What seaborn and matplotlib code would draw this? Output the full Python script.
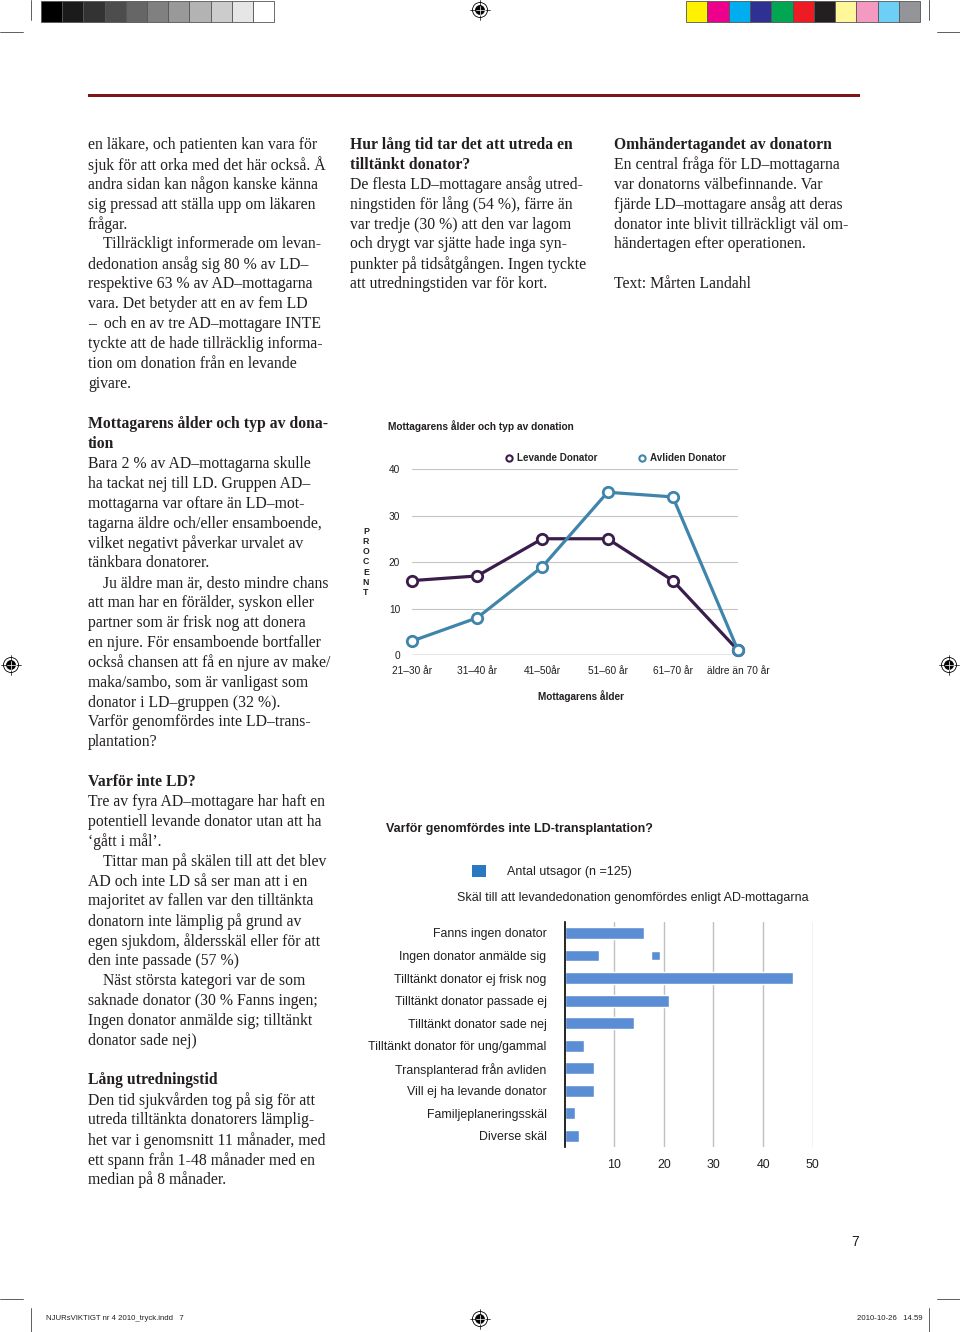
import numpy as np
import pandas as pd
import seaborn as sns
import matplotlib.pyplot as plt
from matplotlib.lines import Line2D
from matplotlib.patches import Rectangle, Circle

# --- chart data -------------------------------------------------------------
age_groups = ['21–30 år', '31–40 år', '41–50år', '51–60 år', '61–70 år', 'äldre än 70 år']
levande = [16, 17, 25, 25, 16, 1]
avliden = [3, 8, 19, 35, 34, 1]
y_ticks_line = [0, 10, 20, 30, 40]

reasons = ['Fanns ingen donator', 'Ingen donator anmälde sig', 'Tilltänkt donator ej frisk nog',
           'Tilltänkt donator passade ej', 'Tilltänkt donator sade nej',
           'Tilltänkt donator för ung/gammal', 'Transplanterad från avliden',
           'Vill ej ha levande donator', 'Familjeplaneringsskäl', 'Diverse skäl']
counts = [16, 7, 46, 21, 14, 4, 6, 6, 2, 3]
stray_row, stray_left, stray_width = 1, 17.5, 1.8
x_ticks_bar = [10, 20, 30, 40, 50]

# --- body text (** = bold heading, > = indented paragraph) ------------------
col1 = ["en läkare, och patienten kan vara för",
        "sjuk för att orka med det här också. Å",
        "andra sidan kan någon kanske känna",
        "sig pressad att ställa upp om läkaren",
        "frågar.",
        ">Tillräckligt informerade om levan-",
        "dedonation ansåg sig 80 % av LD–",
        "respektive 63 % av AD–mottagarna",
        "vara. Det betyder att en av fem LD",
        "–  och en av tre AD–mottagare INTE",
        "tyckte att de hade tillräcklig informa-",
        "tion om donation från en levande",
        "givare."]
col2 = ["**Hur lång tid tar det att utreda en",
        "**tilltänkt donator?",
        "De flesta LD–mottagare ansåg utred-",
        "ningstiden för lång (54 %), färre än",
        "var tredje (30 %) att den var lagom",
        "och drygt var sjätte hade inga syn-",
        "punkter på tidsåtgången. Ingen tyckte",
        "att utredningstiden var för kort."]
col3 = ["**Omhändertagandet av donatorn",
        "En central fråga för LD–mottagarna",
        "var donatorns välbefinnande. Var",
        "fjärde LD–mottagare ansåg att deras",
        "donator inte blivit tillräckligt väl om-",
        "händertagen efter operationen.",
        "",
        "Text: Mårten Landahl"]
col1b = ["**Mottagarens ålder och typ av dona-",
         "**tion",
         "Bara 2 % av AD–mottagarna skulle",
         "ha tackat nej till LD. Gruppen AD–",
         "mottagarna var oftare än LD–mot-",
         "tagarna äldre och/eller ensamboende,",
         "vilket negativt påverkar urvalet av",
         "tänkbara donatorer.",
         ">Ju äldre man är, desto mindre chans",
         "att man har en förälder, syskon eller",
         "partner som är frisk nog att donera",
         "en njure. För ensamboende bortfaller",
         "också chansen att få en njure av make/",
         "maka/sambo, som är vanligast som",
         "donator i LD–gruppen (32 %).",
         "Varför genomfördes inte LD–trans-",
         "plantation?"]
col1c = ["**Varför inte LD?",
         "Tre av fyra AD–mottagare har haft en",
         "potentiell levande donator utan att ha",
         "‘gått i mål’.",
         ">Tittar man på skälen till att det blev",
         "AD och inte LD så ser man att i en",
         "majoritet av fallen var den tilltänkta",
         "donatorn inte lämplig på grund av",
         "egen sjukdom, åldersskäl eller för att",
         "den inte passade (57 %)",
         ">Näst största kategori var de som",
         "saknade donator (30 % Fanns ingen;",
         "Ingen donator anmälde sig; tilltänkt",
         "donator sade nej)",
         "",
         "**Lång utredningstid",
         "Den tid sjukvården tog på sig för att",
         "utreda tilltänkta donatorers lämplig-",
         "het var i genomsnitt 11 månader, med",
         "ett spann från 1-48 månader med en",
         "median på 8 månader."]

gray_swatches = ['#000000', '#1b1b1b', '#333333', '#4d4d4d', '#666666', '#808080',
                 '#999999', '#b3b3b3', '#cccccc', '#e6e6e6', '#ffffff']
color_swatches = ['#fff200', '#ec008c', '#00aeef', '#2e3192', '#00a651', '#ed1c24',
                  '#231f20', '#fff799', '#f49ac1', '#6dcff6', '#939598']

W, H = 960, 1332
SERIF = 'Liberation Serif'
SANS = 'Liberation Sans'
INK = '#231f20'
C_LEV = '#3b1d4c'
C_AVL = '#3f85ab'
C_BAR = '#5b8dd4'

sns.set_theme(style='white')
plt.rcParams['font.family'] = [SANS, 'DejaVu Sans']

fig = plt.figure(figsize=(W / 100, H / 100), dpi=100)

# page layer in pixel coordinates
page = fig.add_axes([0, 0, 1, 1])
page.set_xlim(0, W)
page.set_ylim(H, 0)
page.axis('off')


def block(x, y0, lines, size=11.3, step=19.9):
    for i, s in enumerate(lines):
        if not s:
            continue
        weight = 'normal'
        dx = 0
        if s.startswith('**'):
            s, weight = s[2:], 'bold'
        elif s.startswith('>'):
            s, dx = s[1:], 15
        page.text(x + dx, y0 + i * step, s, fontsize=size, family=SERIF,
                  fontweight=weight, color=INK, va='center', ha='left')


block(88, 145, col1)
block(350, 145, col2)
block(614, 145, col3)
block(88, 424, col1b)
block(88, 782, col1c)

# printer marks
for i, c in enumerate(gray_swatches):
    page.add_patch(Rectangle((41 + i * 21.2, 1), 21.2, 21, facecolor=c,
                             edgecolor='#555555', lw=0.6))
for i, c in enumerate(color_swatches):
    page.add_patch(Rectangle((686 + i * 21.3, 1), 21.3, 21, facecolor=c,
                             edgecolor='#555555', lw=0.6))


def reg_mark(cx, cy):
    page.add_patch(Circle((cx, cy), 7.5, facecolor='white', edgecolor='black', lw=0.6))
    page.add_patch(Circle((cx, cy), 4.5, facecolor='black', edgecolor='black', lw=0.5))
    page.plot([cx - 10, cx + 10], [cy, cy], color='black', lw=0.5)
    page.plot([cx, cx], [cy - 10, cy + 10], color='black', lw=0.5)
    page.plot([cx - 4.5, cx + 4.5], [cy, cy], color='white', lw=0.5)
    page.plot([cx, cx], [cy - 4.5, cy + 4.5], color='white', lw=0.5)


for cx, cy in [(480, 10), (11, 665), (949, 665), (480, 1319)]:
    reg_mark(cx, cy)

crop = dict(color='#444444', lw=0.6)
page.plot([0, 23], [32, 32], **crop)
page.plot([937, 960], [32, 32], **crop)
page.plot([31, 31], [0, 20], **crop)
page.plot([929, 929], [0, 20], **crop)
page.plot([0, 23], [1299, 1299], **crop)
page.plot([937, 960], [1299, 1299], **crop)
page.plot([31, 31], [1308, 1332], **crop)
page.plot([929, 929], [1308, 1332], **crop)

page.add_patch(Rectangle((88, 93.5), 772, 3.5, facecolor='#7e1517', edgecolor='none'))

page.text(46, 1319, 'NJURsVIKTIGT nr 4 2010_tryck.indd   7', fontsize=5.6,
          family=SANS, color=INK, va='center')
page.text(923, 1319, '2010-10-26   14.59', fontsize=5.6, family=SANS,
          color=INK, va='center', ha='right')
page.text(855, 1242, '7', fontsize=10, family=SANS, color=INK, va='center', ha='center')

# --- line chart ---------------------------------------------------------------
df_line = pd.DataFrame({
    'ålder': age_groups * 2,
    'procent': levande + avliden,
    'typ': ['Levande Donator'] * len(age_groups) + ['Avliden Donator'] * len(age_groups),
})

ax1 = fig.add_axes([412 / W, 1 - 655 / H, 326 / W, 186 / H])
sns.lineplot(data=df_line, x='ålder', y='procent', hue='typ',
             palette={'Levande Donator': C_LEV, 'Avliden Donator': C_AVL},
             marker='o', markersize=7.5, markerfacecolor='white', markeredgewidth=2,
             linewidth=2.3, sort=False, ax=ax1)
for ln in ax1.lines:
    ln.set_markeredgecolor(ln.get_color())
    ln.set_clip_on(False)
ax1.get_legend().remove()
ax1.set_xlim(0, len(age_groups) - 1)
ax1.set_ylim(0, 40)
ax1.set_yticks(y_ticks_line)
for v in y_ticks_line[1:]:
    ax1.axhline(v, color='#c4c4c4', lw=0.8, zorder=0)
ax1.axhline(0, color='#888888', lw=1.0, zorder=0)
sns.despine(ax=ax1, left=True, bottom=True)
ax1.set_facecolor('none')
ax1.tick_params(axis='both', length=0, labelsize=7.3, colors=INK)
ax1.tick_params(axis='y', pad=8.6)
ax1.tick_params(axis='x', pad=8)
ax1.set_xlabel('')
ax1.set_ylabel('')

handles = [Line2D([], [], marker='o', ls='none', mfc='white', mec=c, mew=1.5, ms=4.5)
           for c in (C_LEV, C_AVL)]
ax1.legend(handles, ['Levande Donator', 'Avliden Donator'], ncol=2, frameon=False,
           loc='center left', bbox_to_anchor=((501 - 412) / 326, (655 - 458) / 186),
           prop={'family': SANS, 'weight': 'bold', 'size': 7.1},
           handlelength=0.6, handletextpad=0.5, columnspacing=4.2, borderpad=0)

page.text(388, 426, 'Mottagarens ålder och typ av donation', fontsize=7.3,
          fontweight='bold', family=SANS, color=INK, va='center')
page.text(581, 696, 'Mottagarens ålder', fontsize=7.2, fontweight='bold',
          family=SANS, color=INK, va='center', ha='center')
page.text(366, 562, '\n'.join('PROCENT'), fontsize=6.3, fontweight='bold',
          family=SANS, color=INK, va='center', ha='center', linespacing=1.15)

# --- bar chart ----------------------------------------------------------------
df_bar = pd.DataFrame({'skäl': reasons, 'antal': counts})

ax2 = fig.add_axes([564.6 / W, 1 - 1147 / H, 248.1 / W, 225.3 / H])
sns.barplot(data=df_bar, x='antal', y='skäl', orient='h', color=C_BAR,
            saturation=1, width=0.53, ax=ax2)
ax2.barh([stray_row], [stray_width], left=[stray_left], height=0.4, color=C_BAR)
ax2.set_xlim(0, 50)
ax2.set_ylim(len(reasons) - 0.5, -0.5)
ax2.set_xticks(x_ticks_bar)
for v in x_ticks_bar:
    ax2.axvline(v, color='#c0c0c0', lw=1.0, zorder=0)
sns.despine(ax=ax2, bottom=True)
ax2.spines['left'].set_color('black')
ax2.spines['left'].set_linewidth(1.2)
ax2.set_facecolor('none')
ax2.tick_params(axis='both', length=0, labelsize=8.9, colors=INK)
ax2.tick_params(axis='y', pad=13)
ax2.tick_params(axis='x', pad=9)
ax2.set_xlabel('')
ax2.set_ylabel('')

page.text(386, 829, 'Varför genomfördes inte LD-transplantation?', fontsize=9,
          fontweight='bold', family=SANS, color=INK, va='center')
page.add_patch(Rectangle((472, 865), 14, 12, facecolor='#2a78c0', edgecolor='none'))
page.text(507, 872, 'Antal utsagor (n =125)', fontsize=9, family=SANS,
          color=INK, va='center')
page.text(457, 898, 'Skäl till att levandedonation genomfördes enligt AD-mottagarna',
          fontsize=9, family=SANS, color=INK, va='center')

fig.savefig('out.png', dpi=100)
plt.close(fig)
